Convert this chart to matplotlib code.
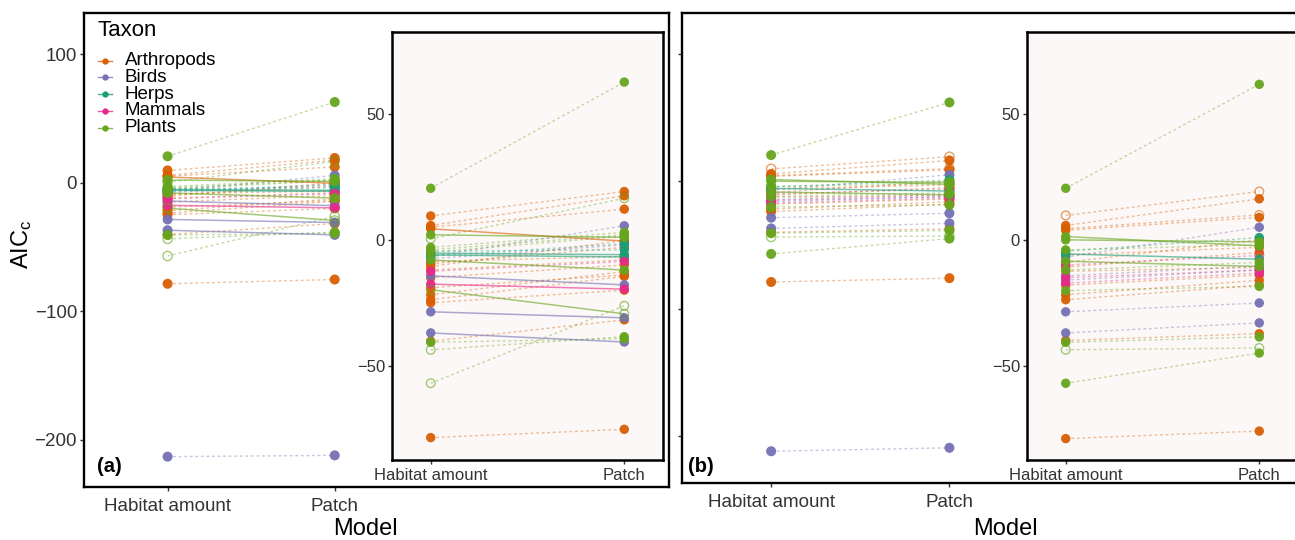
import numpy as np
import matplotlib
matplotlib.use("Agg")
import matplotlib.pyplot as plt

plt.rcParams["font.family"] = ["Liberation Sans", "DejaVu Sans"]
plt.rcParams["mathtext.fontset"] = "custom"
plt.rcParams["mathtext.rm"] = "Liberation Sans"
plt.rcParams["mathtext.it"] = "Liberation Sans"

models = ["Habitat amount", "Patch"]
taxa = ["Arthropods", "Birds", "Herps", "Mammals", "Plants"]
taxon_colors = ["#D95F02", "#7570B3", "#1B9E77", "#E7298A", "#66A61E"]

# panel (a)
a_taxon = ["Plants", "Arthropods", "Arthropods", "Plants", "Arthropods", "Arthropods", "Plants",
           "Birds", "Plants", "Herps", "Herps", "Arthropods", "Plants", "Arthropods", "Birds",
           "Mammals", "Plants", "Arthropods", "Arthropods", "Birds", "Birds", "Arthropods",
           "Plants", "Plants", "Plants", "Arthropods", "Birds", "Arthropods", "Arthropods",
           "Mammals", "Plants", "Herps", "Arthropods", "Arthropods", "Birds", "Plants",
           "Arthropods", "Herps"]
a_habitat = [20.5, 9.5, 5.7, 0.4, 5.0, 4.4, 2.0, -6.6, -4.0, -5.3, -6.0, -8.6, -8.0, -10.6, -14.3,
             -17.6, -19.8, -21.8, -23.8, -28.6, -37.0, -40.3, -40.7, -43.7, -57.0, -78.6, -213.0,
             -9.5, -12.0, -12.5, -3.0, -6.5, -15.0, -19.0, -7.5, -5.0, -25.0, -4.5]
a_patch = [62.7, 19.2, 17.5, 16.5, 12.2, -0.5, 1.0, 5.6, 2.0, -5.9, -6.8, -6.6, -12.0, -0.2, -17.9,
           -19.6, -29.4, -12.6, -14.5, -31.0, -40.6, -31.8, -39.3, -38.5, -26.2, -75.3, -212.0,
           -3.0, -8.0, -8.6, 3.0, -1.5, -10.0, -14.0, -2.0, 1.5, -20.0, -4.0]
a_solid = [0, 0, 0, 0, 0, 1, 1, 0, 0, 1, 1, 0, 1, 0, 1, 1, 1, 0, 0, 1, 1, 0, 0, 0, 0, 0, 0,
           0, 0, 0, 0, 0, 0, 0, 0, 0, 0, 0]
a_hab_open = [0, 0, 0, 1, 0, 0, 0, 0, 0, 0, 0, 0, 0, 0, 0, 0, 1, 0, 0, 0, 0, 0, 0, 1, 1, 0, 0,
              0, 0, 0, 0, 0, 0, 0, 0, 0, 0, 0]
a_patch_open = [0, 0, 0, 1, 0, 0, 0, 0, 0, 0, 0, 0, 0, 0, 0, 0, 1, 0, 0, 0, 0, 0, 0, 0, 1, 0, 0,
                0, 0, 0, 0, 0, 0, 0, 0, 0, 0, 0]

# panel (b)
b_taxon = ["Plants", "Arthropods", "Arthropods", "Arthropods", "Arthropods", "Plants", "Plants",
           "Birds", "Herps", "Herps", "Plants", "Plants", "Arthropods", "Mammals", "Arthropods",
           "Birds", "Mammals", "Mammals", "Plants", "Arthropods", "Arthropods", "Birds", "Birds",
           "Arthropods", "Plants", "Plants", "Plants", "Arthropods", "Birds", "Arthropods",
           "Arthropods", "Plants", "Birds", "Arthropods"]
b_habitat = [20.5, 9.7, 5.7, 4.4, 3.8, 1.3, 0.0, -6.9, -4.5, -5.6, -8.5, -4.0, -8.9, -10.0, -10.8,
             -14.3, -17.2, -15.0, -20.2, -21.8, -23.8, -28.6, -37.0, -40.0, -40.7, -43.7, -57.0,
             -79.0, -211.7, -12.5, -18.0, -12.0, -16.0, -6.0]
b_patch = [61.8, 19.2, 16.3, 9.9, 8.9, -2.4, -0.8, 5.0, 0.9, -7.7, -10.6, -2.0, 0.0, -6.2, -5.0,
           -10.4, -13.2, -12.0, -18.5, -16.1, -18.0, -25.1, -33.0, -37.3, -38.6, -43.0, -45.0,
           -76.0, -209.0, -11.0, -14.0, -9.0, -12.0, -3.0]
b_solid = [0, 0, 0, 0, 0, 1, 1, 0, 0, 1, 1, 0, 0, 0, 0, 0, 0, 0, 0, 0, 0, 0, 0, 0, 0, 0, 0,
           0, 0, 0, 0, 0, 0, 0]
b_hab_open = [0, 1, 0, 0, 0, 0, 0, 0, 0, 0, 0, 0, 0, 0, 0, 0, 0, 0, 0, 0, 0, 0, 0, 0, 0, 1, 0,
              0, 0, 0, 0, 0, 0, 0]
b_patch_open = [0, 1, 0, 1, 0, 0, 0, 0, 0, 0, 0, 0, 0, 1, 0, 0, 0, 0, 0, 0, 0, 0, 0, 0, 0, 1, 0,
                0, 0, 0, 0, 0, 0, 0]

W, H = 1295, 540
col = dict(zip(taxa, taxon_colors))
xpos = np.arange(len(models)) + 1


def rect(x0, y0, x1, y1):
    return [x0 / W, 1 - y1 / H, (x1 - x0) / W, (y1 - y0) / H]


def draw_pairs(ax, taxon, hab, pat, solid, hab_open, pat_open, size):
    for t, h, p, s in zip(taxon, hab, pat, solid):
        if s:
            ax.plot(xpos, [h, p], color=col[t], lw=1.1, alpha=0.6, zorder=2)
        else:
            ax.plot(xpos, [h, p], color=col[t], lw=1.0, alpha=0.4, ls=(0, (2, 2)), zorder=1)
    for t in taxa:
        for k, (vals, opens) in enumerate([(hab, hab_open), (pat, pat_open)]):
            yf = [v for tt, v, o in zip(taxon, vals, opens) if tt == t and not o]
            yo = [v for tt, v, o in zip(taxon, vals, opens) if tt == t and o]
            ax.scatter([xpos[k]] * len(yf), yf, s=size, color=col[t], alpha=0.95,
                       edgecolors="none", zorder=3)
            ax.scatter([xpos[k]] * len(yo), yo, s=size * 0.85, facecolors="none",
                       edgecolors=col[t], alpha=0.6, linewidths=1.0, zorder=3)


def style_main(ax, show_ylabels):
    ax.set_xlim(0.5, 4.0)
    ax.set_ylim(-236.6, 131.9)
    ax.set_xticks(xpos)
    ax.set_xticklabels(models, fontsize=13.5, color="#333333")
    ax.set_yticks([100, 0, -100, -200])
    if not show_ylabels:
        ax.set_yticklabels([])
    ax.tick_params(axis="y", labelsize=13.5, colors="#333333", length=3, width=1, pad=2)
    ax.tick_params(axis="x", length=3, width=1, pad=5, colors="#333333")
    for sp in ax.spines.values():
        sp.set_linewidth(1.7)
        sp.set_color("black")


def style_inset(ax):
    ax.set_facecolor("#FCF8F7")
    ax.set_xlim(0.8, 2.2)
    ax.set_ylim(-87.5, 82.6)
    ax.set_xticks(xpos)
    ax.set_xticklabels(models, fontsize=12, color="#333333")
    ax.set_yticks([50, 0, -50])
    ax.tick_params(axis="y", labelsize=12, colors="#333333", length=3, width=1, pad=2)
    ax.tick_params(axis="x", length=3, width=1, pad=3, colors="#333333")
    for sp in ax.spines.values():
        sp.set_linewidth(1.8)
        sp.set_color("black")


fig = plt.figure(figsize=(W / 100, H / 100), dpi=100)

ax_a = fig.add_axes(rect(84, 13, 669, 487))
draw_pairs(ax_a, a_taxon, a_habitat, a_patch, a_solid, a_hab_open, a_patch_open, 52)
style_main(ax_a, True)

ax_b = fig.add_axes(rect(682, 13, 1306, 483))
draw_pairs(ax_b, b_taxon, b_habitat, b_patch, b_solid, b_hab_open, b_patch_open, 52)
style_main(ax_b, False)

in_a = fig.add_axes(rect(392, 32, 663, 460))
draw_pairs(in_a, a_taxon, a_habitat, a_patch, a_solid, a_hab_open, a_patch_open, 46)
style_inset(in_a)

in_b = fig.add_axes(rect(1027, 32, 1298, 460))
draw_pairs(in_b, b_taxon, b_habitat, b_patch, b_solid, b_hab_open, b_patch_open, 46)
style_inset(in_b)

# legend inside panel (a)
fig.text(98 / W, 1 - 31 / H, "Taxon", fontsize=16, va="center", ha="left", color="black")
for i, t in enumerate(taxa):
    yy = 1 - (60.5 + i * 16.8) / H
    fig.add_artist(plt.Line2D([98 / W, 112 / W], [yy, yy], color=col[t], lw=1.0, alpha=0.8))
    fig.add_artist(plt.Line2D([105 / W], [yy], color=col[t], marker="o", markersize=3.5, lw=0))
    fig.text(125 / W, yy, t, fontsize=13.5, va="center", ha="left", color="black")

fig.text(97 / W, 1 - 466 / H, "(a)", fontsize=14.5, fontweight="bold", va="center", ha="left")
fig.text(688 / W, 1 - 466 / H, "(b)", fontsize=14.5, fontweight="bold", va="center", ha="left")

fig.text(22 / W, 1 - 244 / H, r"AIC$_\mathrm{c}$", fontsize=17, rotation=90,
         va="center", ha="center")
fig.text(365 / W, 1 - 529 / H, "Model", fontsize=17, va="center", ha="center")
fig.text(1005 / W, 1 - 529 / H, "Model", fontsize=17, va="center", ha="center")

fig.savefig("out.png", dpi=100)
